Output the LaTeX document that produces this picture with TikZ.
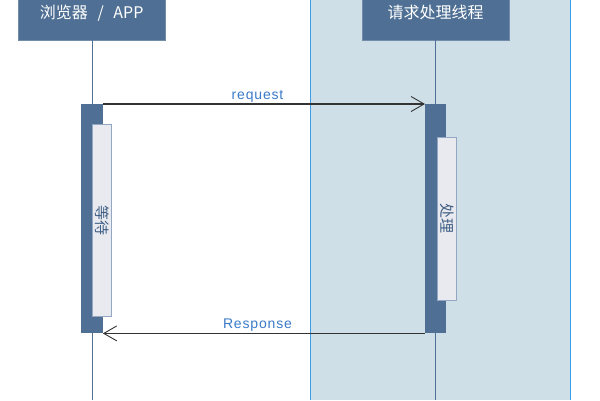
\documentclass[tikz,border=0pt]{standalone}
\usepackage{fontspec}
\setmainfont{Liberation Sans}
\newfontfamily\cjk{Noto Sans CJK SC}
\newfontfamily\lblfont[LetterSpace=6]{Liberation Sans}
\usetikzlibrary{arrows.meta}
\definecolor{hdr}{HTML}{4F7094}
\definecolor{zone}{HTML}{CEDFE7}
\definecolor{zoneedge}{HTML}{3B9CE8}
\definecolor{inner}{HTML}{E9EAF0}
\definecolor{inneredge}{HTML}{93A6C2}
\definecolor{lbl}{HTML}{3A7AC8}
\definecolor{btxt}{HTML}{3F5F85}
\tikzset{
  header/.style={draw=hdr!80!white, fill=hdr, text=white, minimum width=147pt, minimum height=55pt, inner sep=0pt, font=\cjk\fontsize{16}{18}\selectfont},
  lifeline/.style={draw=hdr, line width=0.6pt},
  actbar/.style={fill=hdr, draw=none},
  innerbar/.style={fill=inner, draw=inneredge, line width=0.6pt},
  msg/.style={draw=black!80, line width=1.1pt, -{Straight Barb[length=13pt,width=15pt,line width=0.9pt]}},
  msglbl/.style={text=lbl, font=\lblfont\fontsize{14}{16}\selectfont, inner sep=1pt},
  bartext/.style={text=btxt, font=\cjk\fontsize{15}{17}\selectfont, rotate=-90}
}
\begin{document}
\begin{tikzpicture}[x=1pt,y=-1pt]
\useasboundingbox (0,0) rectangle (600,400);
% zone
\fill[zone] (310,0) rectangle (570,400);
\draw[zoneedge, line width=0.8pt] (310,0) -- (310,400) (570,0) -- (570,400);
% headers
\node[header, anchor=north west] (h1) at (18,-15) {浏览器\hspace{0.6em}/\hspace{0.6em}APP};
\node[header, anchor=north west] (h2) at (362,-15) {请求处理线程};
% lifeline ends
\coordinate (e1) at (92,400);
\coordinate (e2) at (435.5,400);
\draw[lifeline] (h1.south -| e1) -- (e1);
\draw[lifeline] (h2.south -| e2) -- (e2);
% activation bars
\node[actbar, anchor=north west, minimum width=22pt, minimum height=229pt, inner sep=0pt] (a1) at (80.5,104) {};
\node[actbar, anchor=north west, minimum width=21pt, minimum height=229pt, inner sep=0pt] (a2) at (425,104) {};
\node[innerbar, anchor=north west, minimum width=19pt, minimum height=192pt, inner sep=0pt] (b1) at (92,124) {};
\node[innerbar, anchor=north west, minimum width=19pt, minimum height=163pt, inner sep=0pt] (b2) at (437,137) {};
\node[bartext] (t1) at (b1.center) {等待};
\node[bartext] (t2) at (b2.center) {处理};
% messages
\draw[msg] (a1.north east) -- (a2.north west) node[pos=0.48, above, msglbl] (m1) {request};
\draw[msg] (a2.south west) -- (a1.south east) node[pos=0.52, above, msglbl] (m2) {Response};
\end{tikzpicture}
\end{document}
